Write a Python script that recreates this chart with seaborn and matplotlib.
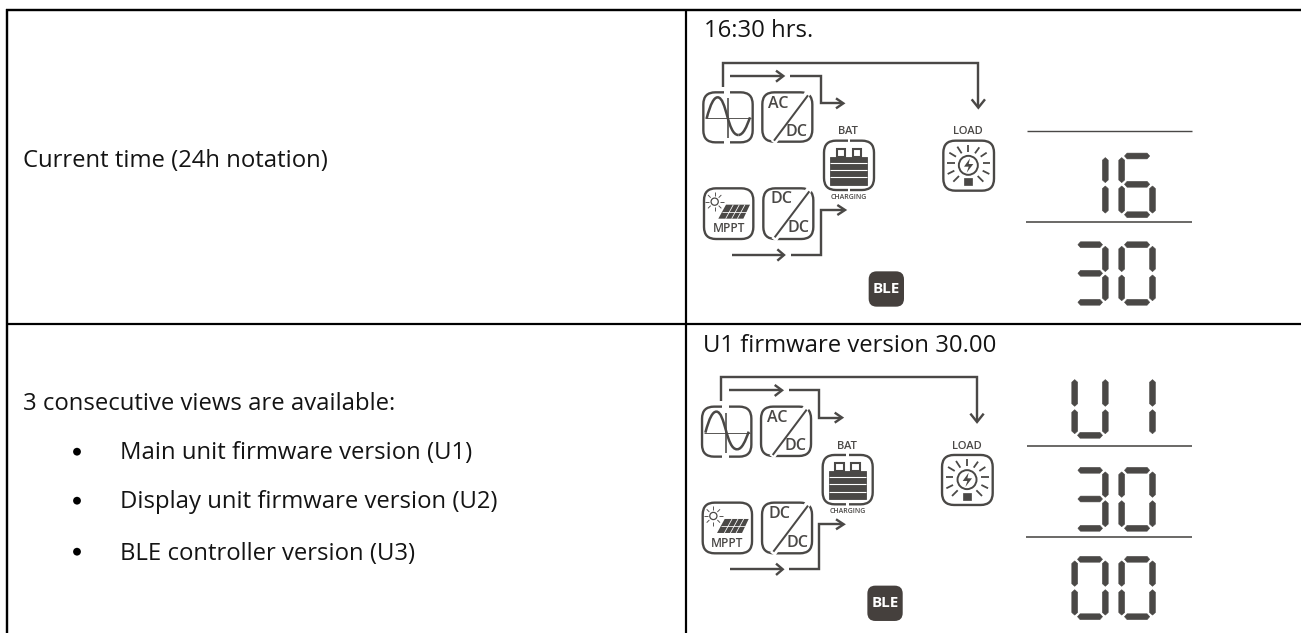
"""Inverter display manual table: two rows with LCD panel drawings."""

import matplotlib
matplotlib.use('Agg')
import matplotlib.pyplot as plt
import seaborn as sns
from matplotlib.font_manager import FontProperties
from matplotlib.patches import FancyBboxPatch, PathPatch, Polygon, Circle, Rectangle
from matplotlib.path import Path
from matplotlib.textpath import TextPath

# table content
left_row1 = "Current time (24h notation)"
left_row2_intro = "3 consecutive views are available:"
left_row2_items = ["Main unit firmware version (U1)",
                   "Display unit firmware version (U2)",
                   "BLE controller version (U3)"]
right_titles = ["16:30 hrs.", "U1 firmware version 30.00"]
lcd_row1 = ["16", "30"]
lcd_row2 = ["U1", "30", "00"]

INK = '#4a4846'
FONT = 'Open Sans'

SEGMENTS = {
    '0': 'abcdef', '1': 'bc', '3': 'abcdg', '6': 'acdefg', 'U': 'bcdef',
}

sns.set_theme(style='white')
plt.rcParams['font.family'] = [FONT, 'DejaVu Sans']

fig = plt.figure(figsize=(13.01, 6.33), dpi=100)
ax = fig.add_axes([0, 0, 1, 1])
ax.set_xlim(0, 1301)
ax.set_ylim(633, 0)
ax.axis('off')


def rule(xs, ys, px=2.0, color='black'):
    sns.lineplot(x=xs, y=ys, sort=False, estimator=None, ax=ax, legend=False,
                 color=color, linewidth=px * 0.72,
                 solid_capstyle='butt', solid_joinstyle='miter')


# font size fitted on the width of the first label
probe = TextPath((0, 0), left_row1, size=10, prop=FontProperties(family=FONT))
text_pt = 10 * 303 / probe.get_extents().width * 0.72


def label(x, y, s):
    ax.text(x, y, s, fontsize=text_pt, color='#141414', ha='left', va='baseline')


# table rules
rule([6, 1301], [10, 10], 2.4)
rule([6, 1301], [323.7, 323.7], 2.2)
rule([7, 7], [9, 633], 2.4)
rule([686, 686], [9, 633], 2.2)

label(23, 167, left_row1)
label(23, 410, left_row2_intro)
for y_base, y_dot, item in zip([459, 508, 560], [451.7, 500.7, 551.7], left_row2_items):
    label(119.5, y_base, item)
    ax.add_patch(Circle((77, y_dot), 3.9, color='black', lw=0))
label(704, 37, right_titles[0])
label(703, 352, right_titles[1])


def box(T, x0, y0, x1, y1, gap_x=None):
    (a, b), (c, d) = T(x0, y0), T(x1, y1)
    ax.add_patch(FancyBboxPatch((a + 8, b + 8), c - a - 16, d - b - 16,
                                boxstyle='round,pad=8,rounding_size=12',
                                fc='white', ec=INK, lw=1.7))
    if gap_x is not None:
        for yy in (y0, y1):
            p, q = T(gap_x[0], yy - 8)
            r, s = T(gap_x[1], yy + 8)
            ax.add_patch(Rectangle((p, q), r - p, s - q, fc='white', ec='none', zorder=3))


def path(T, pts, px=2.4, color=INK, z=2):
    xs, ys = zip(*[T(*p) for p in pts])
    ax.plot(xs, ys, color=color, lw=px * 0.72, solid_capstyle='butt',
            solid_joinstyle='miter', zorder=z)


def arrow(T, pts, head):
    path(T, pts)
    path(T, head)


def icon_text(T, x, y, s, size, color=INK, weight='normal'):
    px, py = T(x, y)
    ax.text(px, py, s, fontsize=size, color=color, ha='center', va='center',
            fontweight=weight, family='Open Sans', zorder=5)


def panel(ox, oy):
    # zoomed drawing units, 3 to a pixel
    T = lambda x, y: (ox + x / 3, oy + y / 3)

    # flow arrows
    arrow(T, [(128, 140), (128, 68), (895, 68), (895, 198)],
          [(875, 178), (895, 203), (915, 178)])
    arrow(T, [(150, 108), (305, 108)], [(288, 92), (310, 108), (288, 125)])
    arrow(T, [(330, 108), (422, 108), (422, 190), (485, 190)],
          [(468, 175), (490, 190), (468, 205)])
    arrow(T, [(155, 645), (310, 645)], [(292, 628), (312, 645), (292, 662)])
    arrow(T, [(332, 645), (422, 645), (422, 510), (490, 510)],
          [(472, 495), (495, 510), (472, 525)])

    # mains
    box(T, 70, 157, 218, 307, gap_x=(131, 150))
    path(T, [(75, 235), (213, 235)], 0.9, z=4)
    path(T, [(143, 175), (143, 295)], 1.6, z=4)
    codes = [Path.MOVETO, Path.CURVE4, Path.CURVE4, Path.CURVE4,
             Path.CURVE4, Path.CURVE4, Path.CURVE4]
    wave = [T(80, 235), T(92, 190), T(102, 172), T(113, 172),
            T(140, 172), T(142, 285), T(175, 285)]
    ax.add_patch(PathPatch(Path(wave, codes), fc='none', ec=INK, lw=1.8, zorder=4))
    wave2 = [T(175, 285), T(190, 285), T(200, 260), T(210, 232)]
    ax.add_patch(PathPatch(Path(wave2, codes[:4]), fc='none', ec=INK, lw=1.8, zorder=4))

    # AC/DC and DC/DC
    box(T, 247, 157, 397, 305)
    path(T, [(388, 152), (280, 308)], 6, color='white', z=3)
    path(T, [(384, 166), (282, 302)], 2.0, z=4)
    icon_text(T, 296, 191, 'AC', 11.5, weight='semibold')
    icon_text(T, 350, 276, 'DC', 11.5, weight='semibold')

    box(T, 250, 445, 400, 597)
    path(T, [(393, 440), (282, 600)], 6, color='white', z=3)
    path(T, [(388, 454), (284, 592)], 2.0, z=4)
    icon_text(T, 303, 478, 'DC', 11.5, weight='semibold')
    icon_text(T, 356, 565, 'DC', 11.5, weight='semibold')

    # battery
    icon_text(T, 505, 276, 'BAT', 8, weight='semibold')
    box(T, 432, 302, 582, 450, gap_x=(503, 511))
    for xa, xb in [(470, 496), (518, 544)]:
        p, q = T(xa, 326)
        r, s = T(xb, 350)
        ax.add_patch(Rectangle((p, q), r - p, s - q, fc='white', ec=INK, lw=1.5, zorder=4))
    p, q = T(450, 350)
    r, s = T(562, 435)
    ax.add_patch(Rectangle((p, q), r - p, s - q, fc=INK, ec=INK, lw=0.6, zorder=4))
    for yy in (368, 390, 412):
        path(T, [(450, yy), (562, yy)], 1.1, color='white', z=5)
    icon_text(T, 507, 472, 'CHARGING', 5, weight='semibold')

    # load
    icon_text(T, 865, 276, 'LOAD', 8, weight='semibold')
    box(T, 790, 302, 942, 452)
    cx, cy = T(865, 376)
    ax.add_patch(Circle((cx, cy), 9.5, fc='none', ec=INK, lw=1.4, zorder=4))
    ray_ends = [((865, 315), (865, 335)), ((898, 322), (885, 340)),
                ((930, 368), (908, 368)), ((928, 402), (908, 392)),
                ((910, 425), (893, 408)), ((820, 425), (837, 408)),
                ((803, 402), (823, 392)), ((802, 368), (824, 368)),
                ((808, 338), (828, 350)), ((832, 320), (845, 340)),
                ((920, 338), (902, 350))]
    for a_pt, b_pt in ray_ends:
        path(T, [a_pt, b_pt], 1.8, z=4)
    ax.add_patch(Polygon([T(870, 355), T(852, 380), T(866, 380), T(860, 398),
                          T(880, 372), T(866, 372)], fc=INK, ec='none', zorder=4))
    p, q = T(853, 415)
    r, s = T(877, 436)
    ax.add_patch(Rectangle((p, q), r - p, s - q, fc=INK, ec=INK, lw=0.5, zorder=4))

    # solar
    box(T, 72, 445, 220, 597)
    sx, sy = T(104, 485)
    ax.add_patch(Circle((sx, sy), 3.6, fc='none', ec=INK, lw=0.9, zorder=4))
    for a_pt, b_pt in [((104, 455), (104, 468)), ((104, 502), (104, 514)),
                       ((76, 485), (88, 485)), ((120, 485), (132, 485)),
                       ((84, 465), (92, 473)), ((116, 497), (124, 505)),
                       ((84, 505), (92, 497)), ((116, 473), (124, 465))]:
        path(T, [a_pt, b_pt], 0.9, z=4)
    ax.add_patch(Polygon([T(138, 494), T(210, 494), T(190, 536), T(115, 536)],
                         fc=INK, ec='none', zorder=4))
    for a_pt, b_pt in [((126, 515), (200, 515)), ((160, 494), (137, 536)),
                       ((178, 494), (155, 536)), ((195, 494), (172, 536))]:
        path(T, [a_pt, b_pt], 0.8, color='white', z=5)
    icon_text(T, 146, 567, 'MPPT', 8.6, weight='semibold')

    # bluetooth badge
    p, q = T(566, 694)
    r, s = T(672, 800)
    ax.add_patch(FancyBboxPatch((p + 6, q + 6), r - p - 12, s - q - 12,
                                boxstyle='round,pad=6,rounding_size=8',
                                fc='#45403d', ec='none', zorder=4))
    icon_text(T, 619, 746, 'BLE', 11, color='white', weight='bold')


def segment(x0, y0, x1, y1, half=2.9, taper=2.6):
    # tapered LCD bar between two end points
    if y0 == y1:
        pts = [(x0, y0), (x0 + taper, y0 - half), (x1 - taper, y0 - half),
               (x1, y0), (x1 - taper, y0 + half), (x0 + taper, y0 + half)]
    else:
        pts = [(x0, y0), (x0 + half, y0 + taper), (x0 + half, y1 - taper),
               (x0, y1), (x0 - half, y1 - taper), (x0 - half, y0 + taper)]
    ax.add_patch(Polygon(pts, closed=True, fc=INK, ec=INK, lw=0.4, joinstyle='round'))


def digit(ch, left, right, top, mid, bot):
    on = SEGMENTS[ch]
    # bars pull in on a side with no upright next to them
    x_a = left + (2.8 if 'f' in on or 'e' in on else 3.2)
    x_b = right - 2.8
    if 'a' in on:
        segment(x_a, top, x_b, top)
    if 'g' in on:
        segment(x_a, mid, x_b, mid)
    if 'd' in on:
        segment(x_a, bot, x_b, bot)
    if 'f' in on:
        segment(left, top + 1.6, left, mid - 1.7)
    if 'e' in on:
        segment(left, mid + 1.7, left, bot - 1.6)
    if 'b' in on:
        segment(right, top + 1.6, right, mid - 1.7)
    if 'c' in on:
        segment(right, mid + 1.7, right, bot - 1.6)


def lcd_line(text, top, mid, bot):
    # two digit cells, right aligned
    cells = [(1074.7, 1105.3), (1121.7, 1152.5)]
    for ch, (left, right) in zip(text, cells):
        digit(ch, left, right, top, mid, bot)


panel(680, 40)
panel(678.7, 354.3)

# LCD rules and digits
rule([1027, 1192], [131.3, 131.3], 1.4, INK)
rule([1026, 1191.6], [222.3, 222.3], 1.6, INK)
rule([1026.5, 1192], [445.7, 445.7], 1.6, INK)
rule([1025.5, 1192], [536.7, 536.7], 1.6, INK)

lcd_line(lcd_row1[0], 156, 184.3, 214.7)
lcd_line(lcd_row1[1], 244.7, 273.3, 302.3)
lcd_line(lcd_row2[0], 378, 408, 435.3)
lcd_line(lcd_row2[1], 470.3, 499, 528.3)
lcd_line(lcd_row2[2], 559.3, 588, 616.7)

fig.savefig('out.png', dpi=100, facecolor='white')
